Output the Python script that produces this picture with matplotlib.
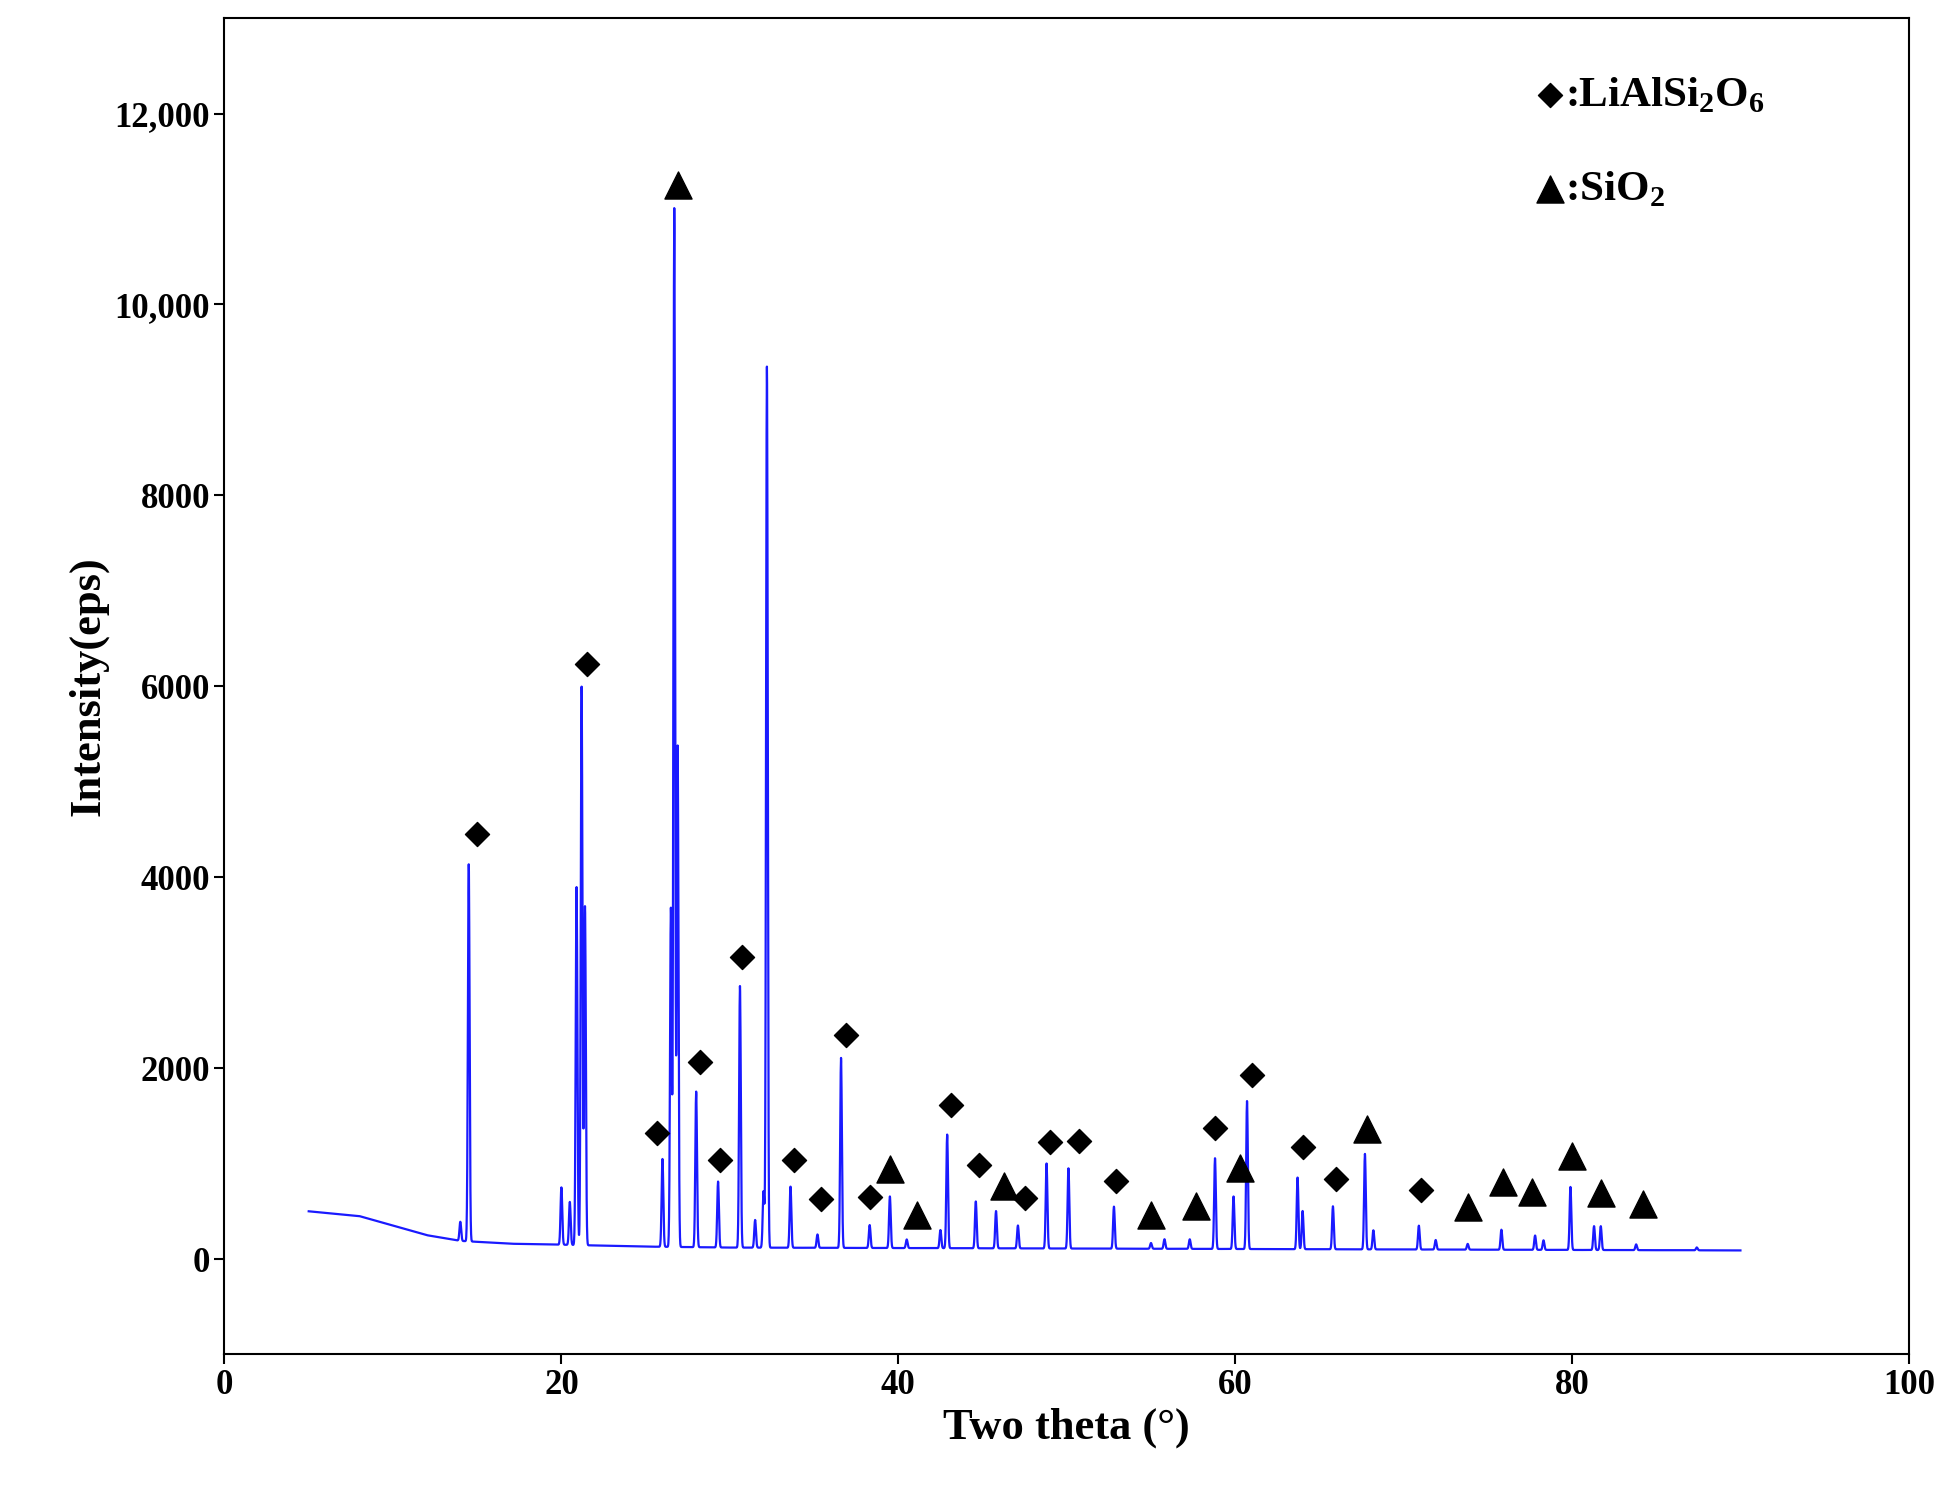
import numpy as np
import matplotlib.pyplot as plt

# background of the pattern (two theta, intensity)
bg_x = [5, 8, 10, 12, 14, 17, 20, 25, 30, 40, 50, 60, 70, 80, 90]
bg_y = [500, 450, 350, 250, 190, 160, 150, 130, 120, 115, 110, 105, 100, 95, 90]

# diffraction peaks: position and peak intensity above background
peak_pos = [14.0, 14.5, 20.0, 20.5, 20.9, 21.2, 21.4, 26.0, 26.5, 26.7, 26.9, 28.0,
            29.3, 30.6, 31.5, 32.0, 32.2, 33.6, 35.2, 36.6, 38.3, 39.5, 40.5, 42.5,
            42.9, 44.6, 45.8, 47.1, 48.8, 50.1, 52.8, 55.0, 55.8, 57.3, 58.8, 59.9,
            60.7, 63.7, 64.0, 65.8, 67.7, 68.2, 70.9, 71.9, 73.8, 75.8, 77.8, 78.3,
            79.9, 81.3, 81.7, 83.8, 87.4]
peak_int = [200, 3950, 600, 450, 3750, 5850, 3550, 920, 3550, 10880, 5250, 1630,
            690, 2740, 290, 590, 9230, 640, 140, 1990, 240, 540, 90, 190,
            1190, 490, 390, 240, 890, 840, 440, 60, 100, 100, 950, 550,
            1550, 750, 400, 450, 1000, 200, 250, 100, 60, 210, 150, 100,
            660, 250, 250, 60, 30]

# phase markers
dia_x = [15.0, 21.5, 25.7, 28.2, 29.4, 30.7, 33.8, 35.4, 36.9, 38.3, 43.1, 44.8,
         47.5, 49.0, 50.7, 52.9, 58.8, 61.0, 64.0, 66.0, 71.0]
dia_y = [4450, 6230, 1320, 2060, 1040, 3160, 1040, 630, 2350, 650, 1610, 980,
         640, 1230, 1240, 820, 1370, 1930, 1170, 840, 720]
tri_x = [26.9, 39.5, 41.1, 46.3, 55.0, 57.7, 60.3, 67.8, 73.8, 75.9, 77.6, 80.0, 81.7, 84.2]
tri_y = [11250, 940, 460, 770, 460, 560, 950, 1360, 540, 810, 700, 1080, 690, 580]

plt.rcParams['font.family'] = 'Liberation Serif'
plt.rcParams['font.weight'] = 'bold'
plt.rcParams['mathtext.fontset'] = 'custom'
plt.rcParams['mathtext.rm'] = 'Liberation Serif:bold'

two_theta = np.arange(5, 90, 0.01)
counts = np.interp(two_theta, bg_x, bg_y)
for p, h in zip(peak_pos, peak_int):
    counts = counts + h * np.exp(-0.5 * ((two_theta - p) / 0.05) ** 2)

fig = plt.figure(figsize=(19.52, 15.10), dpi=100)
ax = fig.add_axes([0.115, 0.103, 0.863, 0.885])
ax.plot(two_theta, counts, color='#1a1aff', lw=1.6)
ax.scatter(dia_x, dia_y, marker='D', s=150, color='black', zorder=3)
ax.scatter(tri_x, tri_y, marker='^', s=380, color='black', zorder=3)

ax.scatter([78.7], [12190], marker='D', s=150, color='black')
ax.text(79.6, 12190, r':LiAlSi$_\mathrm{2}$O$_\mathrm{6}$', fontsize=31, va='center')
ax.scatter([78.7], [11210], marker='^', s=380, color='black')
ax.text(79.6, 11210, r':SiO$_\mathrm{2}$', fontsize=31, va='center')

ax.set_xlim(0, 100)
ax.set_ylim(-1000, 13000)
ax.set_xticks(range(0, 101, 20))
ax.set_yticks(range(0, 12001, 2000))
ax.set_yticklabels(['0', '2000', '4000', '6000', '8000', '10,000', '12,000'])
ax.tick_params(labelsize=25, width=1.5, length=7)
for s in ax.spines.values():
    s.set_linewidth(1.5)
ax.set_xlabel('Two theta (°)', fontsize=32, fontweight='bold')
ax.set_ylabel('Intensity(eps)', fontsize=32, fontweight='bold')

fig.savefig('out.png', dpi=100)
